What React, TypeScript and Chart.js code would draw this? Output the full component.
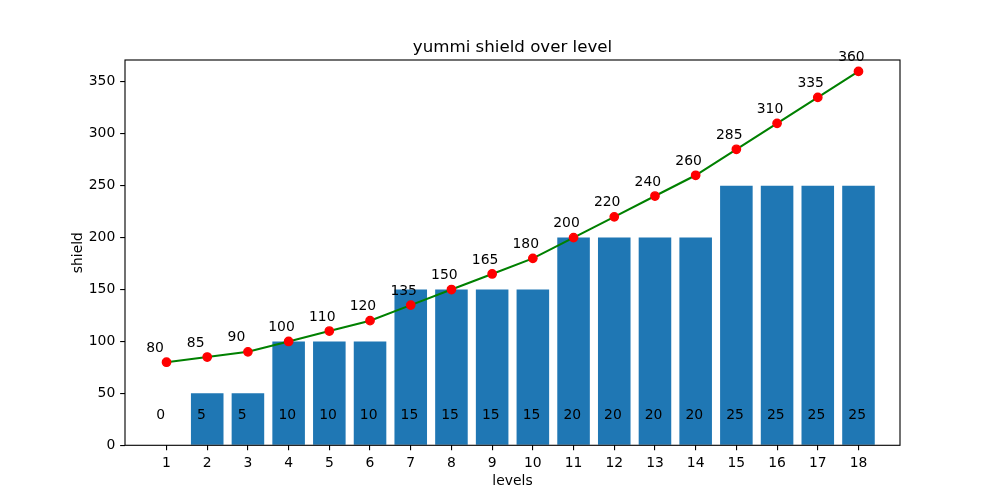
import { useEffect, useRef } from "react";
import { Chart, registerables } from "chart.js";

Chart.register(...registerables);

// values
const levels = [1, 2, 3, 4, 5, 6, 7, 8, 9, 10, 11, 12, 13, 14, 15, 16, 17, 18];
const barShield = [0, 50, 50, 100, 100, 100, 150, 150, 150, 150, 200, 200, 200, 200, 250, 250, 250, 250];
const barTexts = ["0", "5", "5", "10", "10", "10", "15", "15", "15", "15", "20", "20", "20", "20", "25", "25", "25", "25"];
const lineShield = [80, 85, 90, 100, 110, 120, 135, 150, 165, 180, 200, 220, 240, 260, 285, 310, 335, 360];
const yTicks = [0, 50, 100, 150, 200, 250, 300, 350];

const FONT = '"DejaVu Sans", sans-serif';
const FS = 13.9;

const annotate = {
  id: "annotate",
  afterDatasetsDraw(chart: Chart) {
    const { ctx, chartArea } = chart;
    const x = chart.scales.x;
    const y = chart.scales.y;
    ctx.save();
    // axes frame
    ctx.strokeStyle = "#000";
    ctx.lineWidth = 1.11;
    ctx.strokeRect(chartArea.left, chartArea.top, chartArea.right - chartArea.left, chartArea.bottom - chartArea.top);

    ctx.fillStyle = "#000";
    ctx.font = `${FS}px ${FONT}`;
    ctx.textAlign = "left";
    ctx.textBaseline = "alphabetic";
    levels.forEach((lv, i) => {
      ctx.fillText(barTexts[i], x.getPixelForValue(lv - 0.25), y.getPixelForValue(25));
      ctx.fillText(String(lineShield[i]), x.getPixelForValue(lv - 0.5), y.getPixelForValue(lineShield[i] + 10));
    });

    const cx = (chartArea.left + chartArea.right) / 2;
    const cy = (chartArea.top + chartArea.bottom) / 2;
    ctx.textAlign = "center";
    ctx.fillText("levels", cx, 485);
    ctx.save();
    ctx.translate(81.5, cy);
    ctx.rotate(-Math.PI / 2);
    ctx.fillText("shield", 0, 0);
    ctx.restore();
    ctx.font = `16.67px ${FONT}`;
    ctx.fillText("yummi shield over level", cx, 51.5);
    ctx.restore();
  },
};

export default function App() {
  const canvasRef = useRef<HTMLCanvasElement | null>(null);

  useEffect(() => {
    if (!canvasRef.current) return;
    document.body.style.margin = "0";

    const chart = new Chart(canvasRef.current, {
      type: "bar",
      data: {
        datasets: [
          {
            type: "line",
            label: "shield",
            data: levels.map((lv, i) => ({ x: lv, y: lineShield[i] })),
            borderColor: "#008000",
            borderWidth: 2.08,
            pointBackgroundColor: "#ff0000",
            pointBorderColor: "#ff0000",
            pointBorderWidth: 1.39,
            pointRadius: 4.17,
            tension: 0,
            order: 0,
          },
          {
            type: "bar",
            label: "base",
            data: levels.map((lv, i) => ({ x: lv, y: barShield[i] })),
            backgroundColor: "#1f77b4",
            borderWidth: 0,
            barPercentage: 0.8,
            categoryPercentage: 1,
            order: 1,
          },
        ],
      },
      options: {
        responsive: false,
        animation: false,
        layout: { padding: { top: 60, right: 100, left: 0, bottom: 0 } },
        plugins: {
          legend: { display: false },
          tooltip: { enabled: false },
          title: { display: false },
        },
        scales: {
          x: {
            type: "linear",
            min: -0.02,
            max: 19.02,
            offset: false,
            afterBuildTicks: (scale: any) => {
              scale.ticks = levels.map((v) => ({ value: v }));
            },
            afterFit: (scale: any) => {
              scale.height = 54.7;
            },
            ticks: {
              color: "#000",
              padding: 5,
              maxRotation: 0,
              autoSkip: false,
              font: { family: FONT, size: FS },
            },
            grid: {
              display: true,
              offset: false,
              drawOnChartArea: false,
              drawTicks: true,
              tickLength: 4.86,
              color: "#000",
              lineWidth: 1.11,
            },
            border: { display: false },
          },
          y: {
            type: "linear",
            min: 0,
            max: 371,
            afterBuildTicks: (scale: any) => {
              scale.ticks = yTicks.map((v) => ({ value: v }));
            },
            afterFit: (scale: any) => {
              scale.width = 125;
            },
            ticks: {
              color: "#000",
              padding: 4.86,
              font: { family: FONT, size: FS },
            },
            grid: {
              display: true,
              drawOnChartArea: false,
              drawTicks: true,
              tickLength: 4.86,
              color: "#000",
              lineWidth: 1.11,
            },
            border: { display: false },
          },
        },
      },
      plugins: [annotate],
    } as any);

    return () => {
      chart.destroy();
    };
  }, []);

  return (
    <div style={{ position: "absolute", left: 0, top: 0, width: 1000, height: 500, background: "#fff" }}>
      <canvas ref={canvasRef} width={1000} height={500} />
    </div>
  );
}
